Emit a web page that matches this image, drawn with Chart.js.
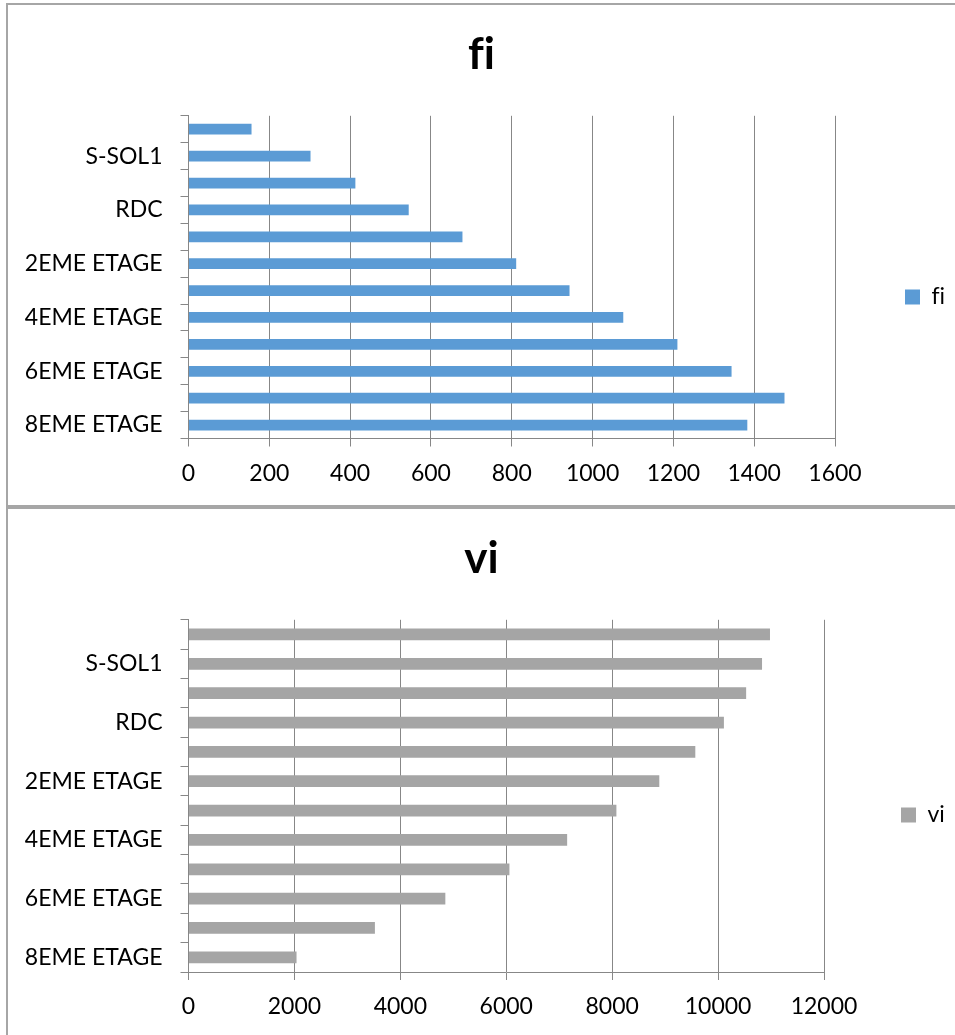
<!DOCTYPE html>
<html>
<head>
<meta charset="utf-8">
<script src="https://cdn.jsdelivr.net/npm/chart.js@4.4.0/dist/chart.umd.min.js"></script>
<style>
  body { margin: 0; background: #fff; overflow: hidden; }
  .box { position: absolute; left: 6px; width: 949px; border: 2px solid #a6a6a6; border-right: none; background: #fff; }
  #boxFi { top: 3px; height: 500px; }
  #boxVi { top: 507px; height: 526px; }
  canvas { display: block; }
</style>
</head>
<body>
<div class="box" id="boxFi"><canvas id="fiChart" width="947" height="500"></canvas></div>
<div class="box" id="boxVi"><canvas id="viChart" width="947" height="526"></canvas></div>
<script>
// floors listed from the bottom bar up (Excel order)
const floors = ["8EME ETAGE", "7EME ETAGE", "6EME ETAGE", "5EME ETAGE", "4EME ETAGE", "3EME ETAGE",
  "2EME ETAGE", "1ER ETAGE", "RDC", "MEZZANINE", "S-SOL1", "S-SOL2"];
const fiValues = [1383, 1475, 1344, 1210, 1076, 943, 811, 678, 545, 413, 302, 156];
const viValues = [2040, 3520, 4850, 6060, 7150, 8080, 8890, 9570, 10110, 10530, 10830, 10980];
const fiTicks = { max: 1600, step: 200 };
const viTicks = { max: 12000, step: 2000 };

const FONT = "Lato, 'Open Sans', sans-serif";
const GRID = "#878787";

// zero-width non-joiner keeps "f" and "i" as two glyphs (no ligature)
const noLig = s => s.split("").join("\u200C");

// fixed legend width + put the swatch where Excel has it
const legendSpot = {
  id: "legendSpot",
  beforeLayout(chart, args, opts) {
    const lg = chart.legend;
    if (lg && !lg._fixedFit) {
      const fit = lg.fit.bind(lg);
      lg.fit = function () { fit(); this.width = opts.width; };
      lg._fixedFit = true;
    }
  },
  afterLayout(chart, args, opts) {
    const lg = chart.legend;
    const dx = opts.x - (lg.left + lg.options.labels.padding);
    const dy = opts.y - (lg.top + lg.bottom) / 2;
    lg.left += dx; lg.right += dx;
    lg.top += dy; lg.bottom += dy;
  }
};

function makeChart(id, name, values, ticks, color, lay) {
  const ctx = document.getElementById(id).getContext("2d");
  return new Chart(ctx, {
    type: "bar",
    data: {
      labels: floors,
      datasets: [{
        label: noLig(name),
        data: values,
        backgroundColor: color,
        borderWidth: 0,
        barPercentage: 0.4,
        categoryPercentage: 1
      }]
    },
    plugins: [legendSpot],
    options: {
      indexAxis: "y",
      responsive: false,
      animation: false,
      layout: { padding: 0 },
      plugins: {
        title: {
          display: true,
          text: noLig(name),
          color: "#000",
          font: { family: FONT, size: 44, weight: "bold" },
          padding: { top: 23, bottom: lay.titleBottom }
        },
        legend: {
          position: "right",
          labels: {
            color: "#000",
            font: { family: FONT, size: 23 },
            boxWidth: 15,
            boxHeight: 15,
            padding: 10
          }
        },
        legendSpot: { width: lay.legendWidth, x: lay.legendX, y: lay.legendY },
        tooltip: { enabled: false }
      },
      scales: {
        x: {
          min: 0,
          max: ticks.max,
          ticks: {
            stepSize: ticks.step,
            color: "#000",
            padding: 13,
            font: { family: FONT, size: 23 },
            maxRotation: 0,
            callback: v => String(v)
          },
          grid: { color: GRID, tickLength: 8 },
          border: { color: GRID },
          afterFit: s => { s.height = lay.xHeight; }
        },
        y: {
          reverse: true,
          ticks: {
            autoSkip: false,
            color: "#000",
            padding: 18,
            font: { family: FONT, size: 23 },
            callback: function (val, i) { return i % 2 === 0 ? this.getLabelForValue(val) : ""; }
          },
          grid: { drawOnChartArea: false, color: GRID, tickLength: 8 },
          border: { color: GRID },
          afterFit: s => { s.width = 180.5; }
        }
      }
    }
  });
}

makeChart("fiChart", "fi", fiValues, fiTicks, "#5b9bd5",
  { titleBottom: 35, legendWidth: 120, legendX: 897, legendY: 292, xHeight: 66.5 });
makeChart("viChart", "vi", viValues, viTicks, "#a5a5a5",
  { titleBottom: 35, legendWidth: 131, legendX: 893, legendY: 306, xHeight: 63 });
</script>
</body>
</html>
